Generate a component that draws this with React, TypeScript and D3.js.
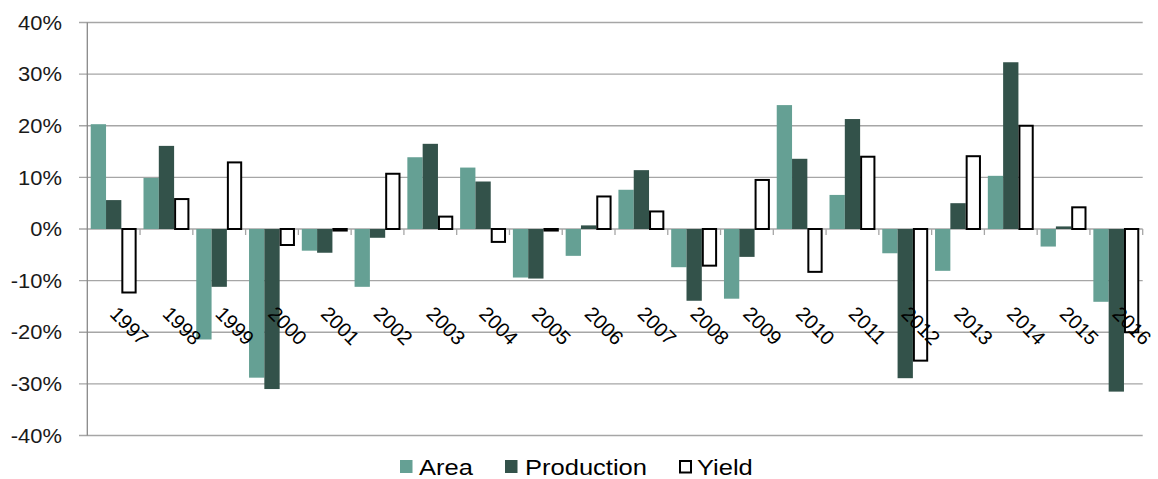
import React from "react";
import * as d3 from "d3";

const years = ["1997","1998","1999","2000","2001","2002","2003","2004","2005","2006","2007","2008","2009","2010","2011","2012","2013","2014","2015","2016"];
const area = [20.3, 9.9, -21.4, -28.8, -4.2, -11.2, 13.9, 11.9, -9.4, -5.2, 7.6, -7.4, -13.5, 24.0, 6.6, -4.7, -8.1, 10.3, -3.4, -14.1];
const production = [5.6, 16.1, -11.2, -31.0, -4.6, -1.7, 16.5, 9.2, -9.6, 0.7, 11.4, -13.9, -5.4, 13.6, 21.3, -28.9, 5.0, 32.3, 0.5, -31.5];
const yieldVals = [-12.3, 5.8, 12.9, -3.1, -0.3, 10.7, 2.4, -2.5, -0.3, 6.3, 3.4, -7.1, 9.5, -8.3, 14.0, -25.5, 14.1, 20.0, 4.2, -20.0];
const yTicks = [40, 30, 20, 10, 0, -10, -20, -30, -40];
const seriesNames = ["Area", "Production", "Yield"];

const W = 1158, H = 479;
const left = 87.3, right = 1142.7, top = 22.5, bottom = 435.5;
const FONT = "'Liberation Sans', Arial, sans-serif";

export default function App() {
  const x = d3.scaleBand<string>().domain(years).range([left, right]).paddingInner(0).paddingOuter(0);
  const y = d3.scaleLinear().domain([-40, 40]).range([bottom, top]);
  const catW = x.bandwidth();
  const bw = catW * 0.29;
  const off = (catW - 3 * bw) / 2;
  const series = [
    { name: "Area", vals: area, fill: "#65a094", stroke: "none", sw: 0 },
    { name: "Production", vals: production, fill: "#33524a", stroke: "none", sw: 0 },
    { name: "Yield", vals: yieldVals, fill: "#ffffff", stroke: "#000000", sw: 2 },
  ];
  const y0 = y(0);
  const legendItems = [
    { name: seriesNames[0], sx: 400, tx: 419 },
    { name: seriesNames[1], sx: 505, tx: 525 },
    { name: seriesNames[2], sx: 679, tx: 697 },
  ];
  return (
    <svg width={W} height={H} style={{ position: "absolute", left: 0, top: 0, background: "#fff" }} fontFamily={FONT}>
      {yTicks.map((t) => (
        <g key={t}>
          <line x1={79} x2={right} y1={y(t)} y2={y(t)} stroke="#a6a6a6" strokeWidth={1.3} />
          <text transform={`translate(62,${y(t) + 7.2}) scale(1.07,1)`} textAnchor="end" fontSize={20.5} fill="#1a1a1a">{t}%</text>
        </g>
      ))}
      <line x1={left} x2={left} y1={top} y2={bottom} stroke="#888" strokeWidth={1.3} />
      {years.map((yr) => (
        <line key={"tk" + yr} x1={x(yr)! + catW} x2={x(yr)! + catW} y1={y0} y2={y0 + 6} stroke="#a6a6a6" strokeWidth={1.3} />
      ))}
      {series.map((s, si) => (
        <g key={s.name}>
          {s.vals.map((v, i) => {
            const bx = x(years[i])! + off + si * bw;
            const yt = y(Math.max(0, v));
            const h = Math.abs(y(v) - y0);
            return s.sw ? (
              <rect key={i} x={bx + 1} y={yt} width={bw - 2} height={h} fill={s.fill} stroke={s.stroke} strokeWidth={s.sw} />
            ) : (
              <rect key={i} x={bx} y={yt} width={bw} height={h} fill={s.fill} />
            );
          })}
        </g>
      ))}
      {years.map((yr) => {
        const cx = x(yr)! + catW / 2 - 5;
        const cy = 315;
        return (
          <text key={"lb" + yr} x={cx} y={cy} transform={`rotate(45 ${cx} ${cy})`} fontSize={20} fill="#000">{yr}</text>
        );
      })}
      {legendItems.map((it, i) => (
        <g key={it.name}>
          {i < 2 ? (
            <rect x={it.sx} y={460} width={12.5} height={13} fill={series[i].fill} />
          ) : (
            <rect x={it.sx + 1} y={461} width={11} height={11.5} fill="#fff" stroke="#000" strokeWidth={2} />
          )}
          <text transform={`translate(${it.tx},475) scale(1.16,1)`} fontSize={22} fill="#000">{it.name}</text>
        </g>
      ))}
    </svg>
  );
}
